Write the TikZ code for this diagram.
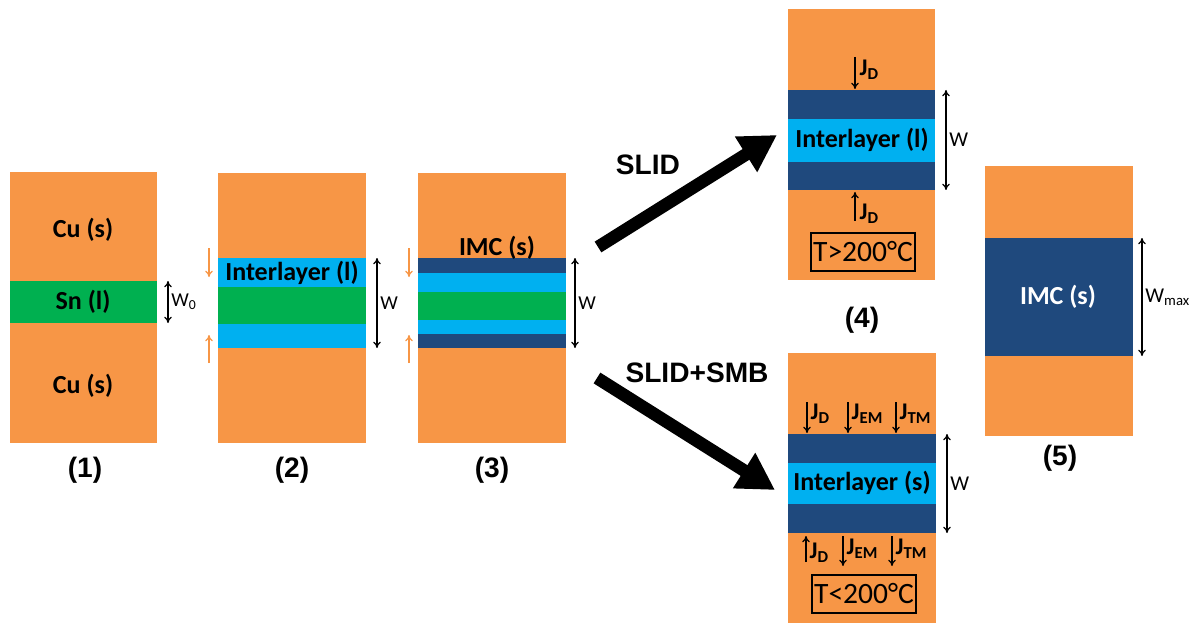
\documentclass[tikz,border=0pt]{standalone}
\usepackage{fontspec}
\setmainfont{Carlito}
\newfontfamily\arialfont{Liberation Sans}
\usetikzlibrary{arrows.meta}
\definecolor{cuorange}{HTML}{F79646}
\definecolor{sngreen}{HTML}{00B050}
\definecolor{liqblue}{HTML}{00B0F0}
\definecolor{imcblue}{HTML}{1F497D}

\begin{document}
\begin{tikzpicture}[x=0.025cm, y=-0.025cm,
    lbl/.style={font=\fontsize{18.5}{20}\selectfont\bfseries},
    tag/.style={font=\arialfont\fontsize{20}{22}\selectfont\bfseries},
    wlbl/.style={font=\fontsize{14}{16}\selectfont, anchor=west, inner sep=2pt},
    wdim/.style={{To[length=4.5pt,width=5.5pt]}-{To[length=4.5pt,width=5.5pt]}, line width=0.9pt},
    flux/.style={-{To[length=4.5pt,width=5.5pt]}, line width=0.9pt},
    cuflux/.style={-{To[length=4.5pt,width=5.5pt]}, cuorange, line width=0.9pt},
    route/.style={-{Triangle[width=28pt,length=26pt]}, line width=9pt},
    jlbl/.style={font=\fontsize{17}{19}\selectfont\bfseries, anchor=west, inner sep=1pt},
    tbox/.style={draw, line width=1.5pt, inner sep=0pt, minimum width=2.62cm,
        minimum height=0.95cm, font=\fontsize{21}{23}\selectfont}]
    \useasboundingbox (0,0) rectangle (1197,623);

    % (1) Cu / Sn / Cu
    \fill[cuorange] (10,172) rectangle (157,443);
    \fill[sngreen] (10,281) rectangle (157,323);
    \node[lbl] (cu1top) at (83,230) {Cu (s)};
    \node[lbl] (sn1) at (83,302) {Sn (l)};
    \node[lbl] (cu1bot) at (83,386) {Cu (s)};
    \node[tag] (tag1) at (85,470) {(1)};
    \coordinate (w1top) at (168,281);
    \coordinate (w1bot) at (168,323);
    \draw[wdim] (w1top) -- (w1bot) node[wlbl, midway] (w1lbl) {W\textsubscript{0}};

    % (2) interlayer forms
    \fill[cuorange] (218,173) rectangle (366,443);
    \fill[liqblue] (218,258) rectangle (366,287);
    \fill[sngreen] (218,287) rectangle (366,324);
    \fill[liqblue] (218,324) rectangle (366,348);
    \node[lbl] (il2) at (292,273) {Interlayer (l)};
    \node[tag] (tag2) at (292,470) {(2)};
    \coordinate (g2a) at (209,248); \coordinate (g2b) at (209,277);
    \coordinate (g2c) at (209,363); \coordinate (g2d) at (209,335);
    \draw[cuflux] (g2a) -- (g2b);
    \draw[cuflux] (g2c) -- (g2d);
    \coordinate (w2top) at (377,258);
    \coordinate (w2bot) at (377,348);
    \draw[wdim] (w2top) -- (w2bot) node[wlbl, midway] (w2lbl) {W};

    % (3) IMC forms
    \fill[cuorange] (418,173) rectangle (566,443);
    \fill[imcblue] (418,258) rectangle (566,273);
    \fill[liqblue] (418,273) rectangle (566,292);
    \fill[sngreen] (418,292) rectangle (566,320);
    \fill[liqblue] (418,320) rectangle (566,334);
    \fill[imcblue] (418,334) rectangle (566,348);
    \node[lbl] (imc3) at (497,248) {IMC (s)};
    \node[tag] (tag3) at (492,470) {(3)};
    \coordinate (g3a) at (409,248); \coordinate (g3b) at (409,277);
    \coordinate (g3c) at (409,363); \coordinate (g3d) at (409,335);
    \draw[cuflux] (g3a) -- (g3b);
    \draw[cuflux] (g3c) -- (g3d);
    \coordinate (w3top) at (575,258);
    \coordinate (w3bot) at (575,348);
    \draw[wdim] (w3top) -- (w3bot) node[wlbl, midway] (w3lbl) {W};

    % routes
    \coordinate (slidA) at (598,247); \coordinate (slidB) at (777,135);
    \coordinate (smbA) at (597,378); \coordinate (smbB) at (775,490);
    \draw[route] (slidA) -- (slidB);
    \draw[route] (smbA) -- (smbB);
    \node[tag] (slid) at (648,165) {SLID};
    \node[tag] (slidsmb) at (697,373) {SLID+SMB};

    % (4) SLID, T>200C
    \fill[cuorange] (788,9) rectangle (935,280);
    \fill[imcblue] (788,90) rectangle (935,119);
    \fill[liqblue] (788,119) rectangle (935,162);
    \fill[imcblue] (788,162) rectangle (935,190);
    \node[lbl] (il4) at (862,140) {Interlayer (l)};
    \node[tag] (tag4) at (862,320) {(4)};
    \node[tbox] (t4) at (863,252) {T>200°C};
    \coordinate (j4a) at (855,57); \coordinate (j4b) at (855,89);
    \coordinate (j4c) at (855,221); \coordinate (j4d) at (855,192);
    \draw[flux] (j4a) -- (j4b);
    \draw[flux] (j4c) -- (j4d);
    \node[jlbl] (jd4top) at (858,70) {J\textsubscript{D}};
    \node[jlbl] (jd4bot) at (858,214) {J\textsubscript{D}};
    \coordinate (w4top) at (946,90);
    \coordinate (w4bot) at (946,190);
    \draw[wdim] (w4top) -- (w4bot) node[wlbl, midway, font=\fontsize{15}{17}\selectfont] (w4lbl) {W};

    % (5) full IMC
    \fill[cuorange] (985,166) rectangle (1133,436);
    \fill[imcblue] (985,238) rectangle (1133,356);
    \node[lbl, white] (imc5) at (1058,297) {IMC (s)};
    \node[tag] (tag5) at (1060,458) {(5)};
    \coordinate (w5top) at (1142,238);
    \coordinate (w5bot) at (1142,356);
    \draw[wdim] (w5top) -- (w5bot) node[wlbl, midway, font=\fontsize{15}{17}\selectfont] (w5lbl) {W\textsubscript{max}};

    % SLID+SMB, T<200C
    \fill[cuorange] (788,353) rectangle (936,623);
    \fill[imcblue] (788,434) rectangle (936,463);
    \fill[liqblue] (788,463) rectangle (936,504);
    \fill[imcblue] (788,504) rectangle (936,533);
    \node[lbl] (il6) at (862,483) {Interlayer (s)};
    \node[tbox] (t6) at (864,594) {T<200°C};
    \coordinate (j6a) at (807,402); \coordinate (j6b) at (807,433);
    \coordinate (j6c) at (848,402); \coordinate (j6d) at (848,433);
    \coordinate (j6e) at (896,402); \coordinate (j6f) at (896,433);
    \draw[flux] (j6a) -- (j6b);
    \draw[flux] (j6c) -- (j6d);
    \draw[flux] (j6e) -- (j6f);
    \node[jlbl] (jd6top) at (809,414) {J\textsubscript{D}};
    \node[jlbl] (jem6top) at (850,414) {J\textsubscript{EM}};
    \node[jlbl] (jtm6top) at (898,414) {J\textsubscript{TM}};
    \coordinate (j6g) at (806,562); \coordinate (j6h) at (806,536);
    \coordinate (j6i) at (843,536); \coordinate (j6j) at (843,566);
    \coordinate (j6k) at (892,536); \coordinate (j6l) at (892,566);
    \draw[flux] (j6g) -- (j6h);
    \draw[flux] (j6i) -- (j6j);
    \draw[flux] (j6k) -- (j6l);
    \node[jlbl] (jd6bot) at (808,553) {J\textsubscript{D}};
    \node[jlbl] (jem6bot) at (845,549) {J\textsubscript{EM}};
    \node[jlbl] (jtm6bot) at (894,549) {J\textsubscript{TM}};
    \coordinate (w6top) at (947,434);
    \coordinate (w6bot) at (947,533);
    \draw[wdim] (w6top) -- (w6bot) node[wlbl, midway, font=\fontsize{15}{17}\selectfont] (w6lbl) {W};
\end{tikzpicture}
\end{document}
